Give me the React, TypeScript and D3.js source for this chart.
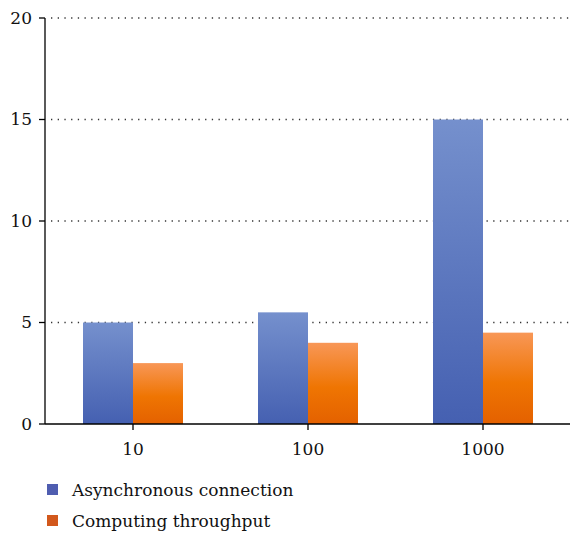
import React from "react";
import * as d3 from "d3";

const categories = ["10", "100", "1000"];
const seriesNames = ["Asynchronous connection", "Computing throughput"];
const asyncValues = [5, 5.5, 15];
const throughputValues = [3, 4, 4.5];
const yTicks = [0, 5, 10, 15, 20];

const W = 570;
const H = 534;
const margin = { left: 45, right: -1, top: 18, bottom: 110 };
const FONT = "DejaVu Serif";

export default function App() {
  const x = d3
    .scaleBand<string>()
    .domain(categories)
    .range([margin.left, W - margin.right])
    .paddingInner(75 / 175)
    .paddingOuter(38 / 175);
  const y = d3.scaleLinear().domain([0, 20]).range([H - margin.bottom, margin.top]);
  const sub = d3.scaleBand<string>().domain(seriesNames).range([0, x.bandwidth()]);
  const series = [asyncValues, throughputValues];
  const grads = ["gBlue", "gOrange"];
  const legendColors = ["#4f5db0", "#d2581c"];

  return (
    <svg width={W} height={H} style={{ position: "absolute", left: 0, top: 0, background: "#fff" }}>
      <defs>
        <linearGradient id="gBlue" x1="0" y1="0" x2="0" y2="1">
          <stop offset="0%" stopColor="#7590cd" />
          <stop offset="100%" stopColor="#4560b1" />
        </linearGradient>
        <linearGradient id="gOrange" x1="0" y1="0" x2="0" y2="1">
          <stop offset="0%" stopColor="#f89757" />
          <stop offset="55%" stopColor="#ef7502" />
          <stop offset="100%" stopColor="#e46100" />
        </linearGradient>
      </defs>
      {/* gridlines */}
      {yTicks.filter((t) => t > 0).map((t) => (
        <line
          key={"g" + t}
          x1={margin.left + 6}
          x2={W}
          y1={y(t)}
          y2={y(t)}
          stroke="#333"
          strokeWidth={1.3}
          strokeDasharray="1.3 5.4"
        />
      ))}
      {/* bars */}
      {categories.map((c, i) =>
        series.map((vals, s) => (
          <rect
            key={c + s}
            x={(x(c) as number) + (sub(seriesNames[s]) as number)}
            y={y(vals[i])}
            width={sub.bandwidth()}
            height={y(0) - y(vals[i])}
            fill={`url(#${grads[s]})`}
          />
        ))
      )}
      {/* y axis */}
      <line x1={margin.left} x2={margin.left} y1={margin.top} y2={y(0)} stroke="#000" strokeWidth={1.3} />
      {yTicks.map((t) => (
        <g key={"y" + t}>
          <line x1={margin.left - 6} x2={margin.left} y1={y(t)} y2={y(t)} stroke="#000" strokeWidth={1.3} />
          <text x={margin.left - 13} y={y(t)} dy="0.35em" textAnchor="end" fontFamily={FONT} fontSize={17} fill="#111">
            {t}
          </text>
        </g>
      ))}
      {/* x axis */}
      <line x1={margin.left} x2={W} y1={y(0)} y2={y(0)} stroke="#000" strokeWidth={1.3} />
      {categories.map((c) => {
        const cx = (x(c) as number) + x.bandwidth() / 2;
        return (
          <g key={"x" + c}>
            <line x1={cx} x2={cx} y1={y(0)} y2={y(0) + 6} stroke="#000" strokeWidth={1.3} />
            <text x={cx} y={y(0) + 31} textAnchor="middle" fontFamily={FONT} fontSize={17} fill="#111">
              {c}
            </text>
          </g>
        );
      })}
      {/* legend */}
      {seriesNames.map((n, i) => (
        <g key={n} transform={`translate(47, ${484 + i * 31})`}>
          <rect width={11} height={11} fill={legendColors[i]} />
          <text x={25} y={6} dy="0.35em" fontFamily={FONT} fontSize={17} fill="#111">
            {n}
          </text>
        </g>
      ))}
    </svg>
  );
}
